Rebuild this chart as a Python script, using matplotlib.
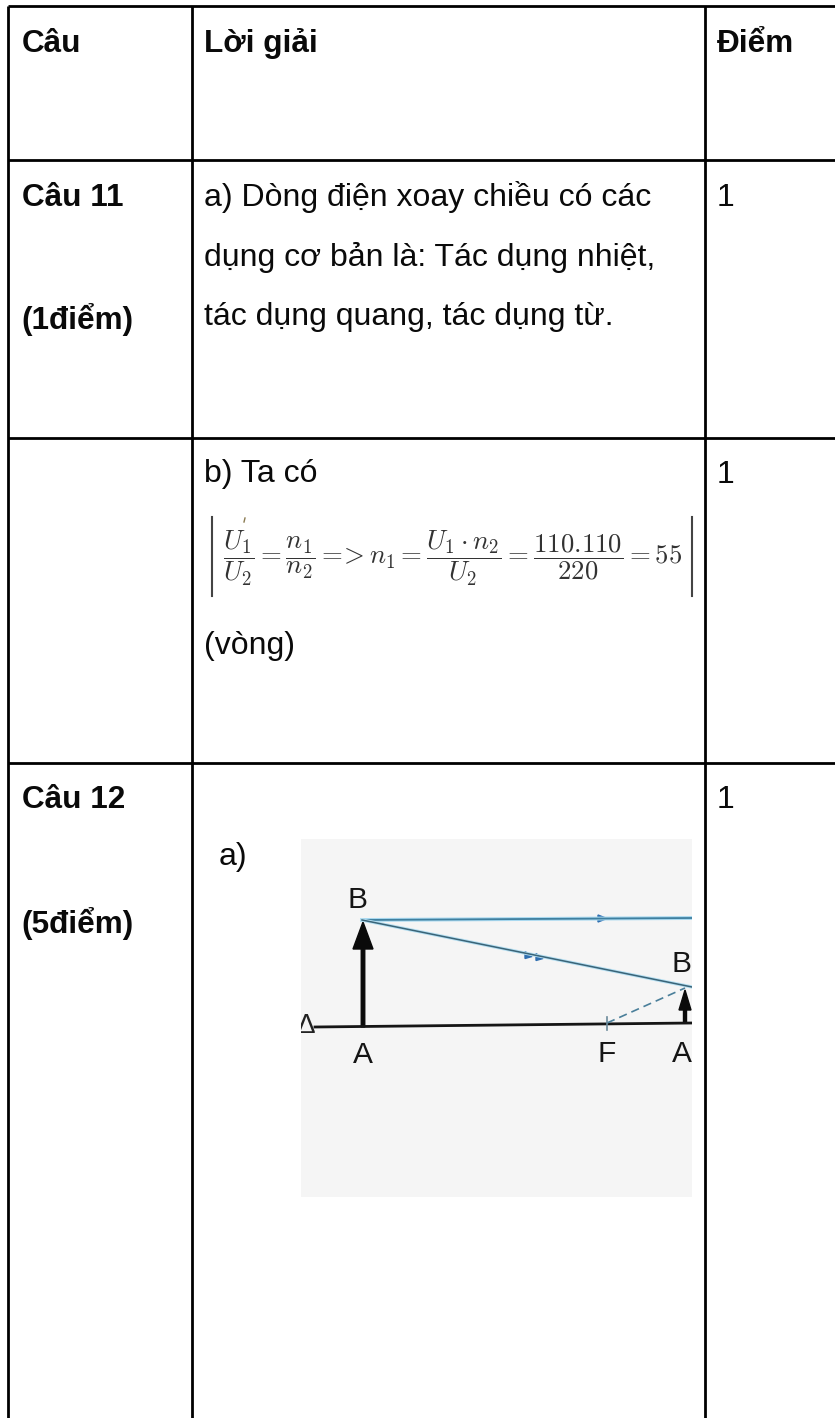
import matplotlib.pyplot as plt
import matplotlib.patches as patches

W, H = 835, 1418

# table contents: (x, baseline y, text)
bold_cells = [
    (22, 52, "Câu"),
    (204, 52, "Lời giải"),
    (717, 52, "Điểm"),
    (22, 206, "Câu 11"),
    (21, 329, "(1điểm)"),
    (22, 808, "Câu 12"),
    (21, 933, "(5điểm)"),
]
normal_cells = [
    (204, 206, "a) Dòng điện xoay chiều có các"),
    (204, 266, "dụng cơ bản là: Tác dụng nhiệt,"),
    (204, 325, "tác dụng quang, tác dụng từ."),
    (204, 482, "b) Ta có"),
    (204, 654, "(vòng)"),
    (219, 865, "a)"),
    (717, 206, "1"),
    (717, 483, "1"),
    (717, 808, "1"),
]
col_lines = [8, 192, 705]
row_lines = [6, 160, 438, 763]

formula = (r"$\dfrac{U_1}{U_2}=\dfrac{n_1}{n_2}=\!\!>n_1=\dfrac{U_1\cdot n_2}{U_2}"
           r"=\dfrac{110.110}{220}=55$")

# lens diagram, in picture pixels
img_box = (301, 839, 391, 358)
ax_line = ([315, 692], [1027, 1023])
ray_top = ([362, 692], [920, 918])
ray_low = ([362, 692], [920, 987])
ray_dash = ([607, 685], [1023, 988])
diagram_labels = [(358, 908, "B", "center"), (363, 1063, "A", "center"),
                  (607, 1062, "F", "center"), (672, 972, "B'", "left"),
                  (682, 1062, "A", "center")]

fig = plt.figure(figsize=(W / 100, H / 100), dpi=100)
ax = fig.add_axes([0, 0, 1, 1])
ax.set_xlim(0, W)
ax.set_ylim(H, 0)
ax.axis("off")

font = "Liberation Sans"

# grid
for x in col_lines:
    ax.plot([x, x], [row_lines[0], H], color="black", lw=2.0, solid_capstyle="butt")
for y in row_lines:
    ax.plot([col_lines[0], W], [y, y], color="black", lw=2.0, solid_capstyle="butt")

for x, y, s in bold_cells:
    ax.text(x, y, s, family=font, weight="bold", fontsize=22.7, color="#0a0a0a", va="baseline")
for x, y, s in normal_cells:
    ax.text(x, y, s, family=font, fontsize=23.05, color="#0a0a0a", va="baseline")

# formula with its two bars
ax.text(453, 558, formula, fontsize=19.3, color="#333333", ha="center", va="center",
        math_fontfamily="cm")
ax.plot([212, 212], [517, 596], color="#444444", lw=1.5)
ax.plot([692, 692], [517, 596], color="#444444", lw=1.5)
ax.plot([245, 244], [518, 522], color="#8a7a50", lw=1.0)

# scanned diagram
box = patches.Rectangle(img_box[:2], img_box[2], img_box[3], facecolor="#f5f5f5", edgecolor="none")
ax.add_patch(box)


def clipped(artist):
    artist.set_clip_on(True)
    artist.set_clip_path(box)
    return artist


clipped(ax.plot(*ax_line, color="#151515", lw=2.0)[0])
# rays have a pale halo from the scan
clipped(ax.plot(*ray_top, color="#a9d9f0", lw=2.8)[0])
clipped(ax.plot(*ray_top, color="#3f7f9f", lw=1.3)[0])
clipped(ax.plot(*ray_low, color="#b5dff2", lw=2.4)[0])
clipped(ax.plot(*ray_low, color="#3a6478", lw=1.1)[0])
clipped(ax.plot(*ray_dash, color="#4a7f9a", lw=1.2, ls=(0, (5, 3)))[0])

# object and image arrows
ax.add_patch(clipped(patches.FancyArrow(363, 1027, 0, -105, width=3.5, head_width=20,
                                        head_length=27, length_includes_head=True,
                                        color="#0a0a0a")))
ax.add_patch(clipped(patches.FancyArrow(685, 1023, 0, -33, width=3, head_width=12,
                                        head_length=20, length_includes_head=True,
                                        color="#0a0a0a")))

# small blue arrowheads on the rays
for start, dx, dy in [((598, 918.5), 9, 0), ((525, 955), 7, 1.5), ((536, 957), 7, 1.5)]:
    ax.add_patch(patches.Polygon([(start[0], start[1] - 3.5), (start[0], start[1] + 3.5),
                                  (start[0] + dx, start[1] + dy)],
                                 closed=True, color="#2f6fb0"))

# F tick and the delta at the axis start
ax.plot([607, 607], [1017, 1030], color="#6a8a9a", lw=1.2)
clipped(ax.text(305, 1033, "Δ", family=font, fontsize=20, color="#222222",
                ha="center", va="baseline"))

for x, y, s, ha in diagram_labels:
    clipped(ax.text(x, y, s, family=font, fontsize=21.5, color="#151515",
                    ha=ha, va="baseline"))

fig.savefig("out.png", dpi=100, facecolor="white")
